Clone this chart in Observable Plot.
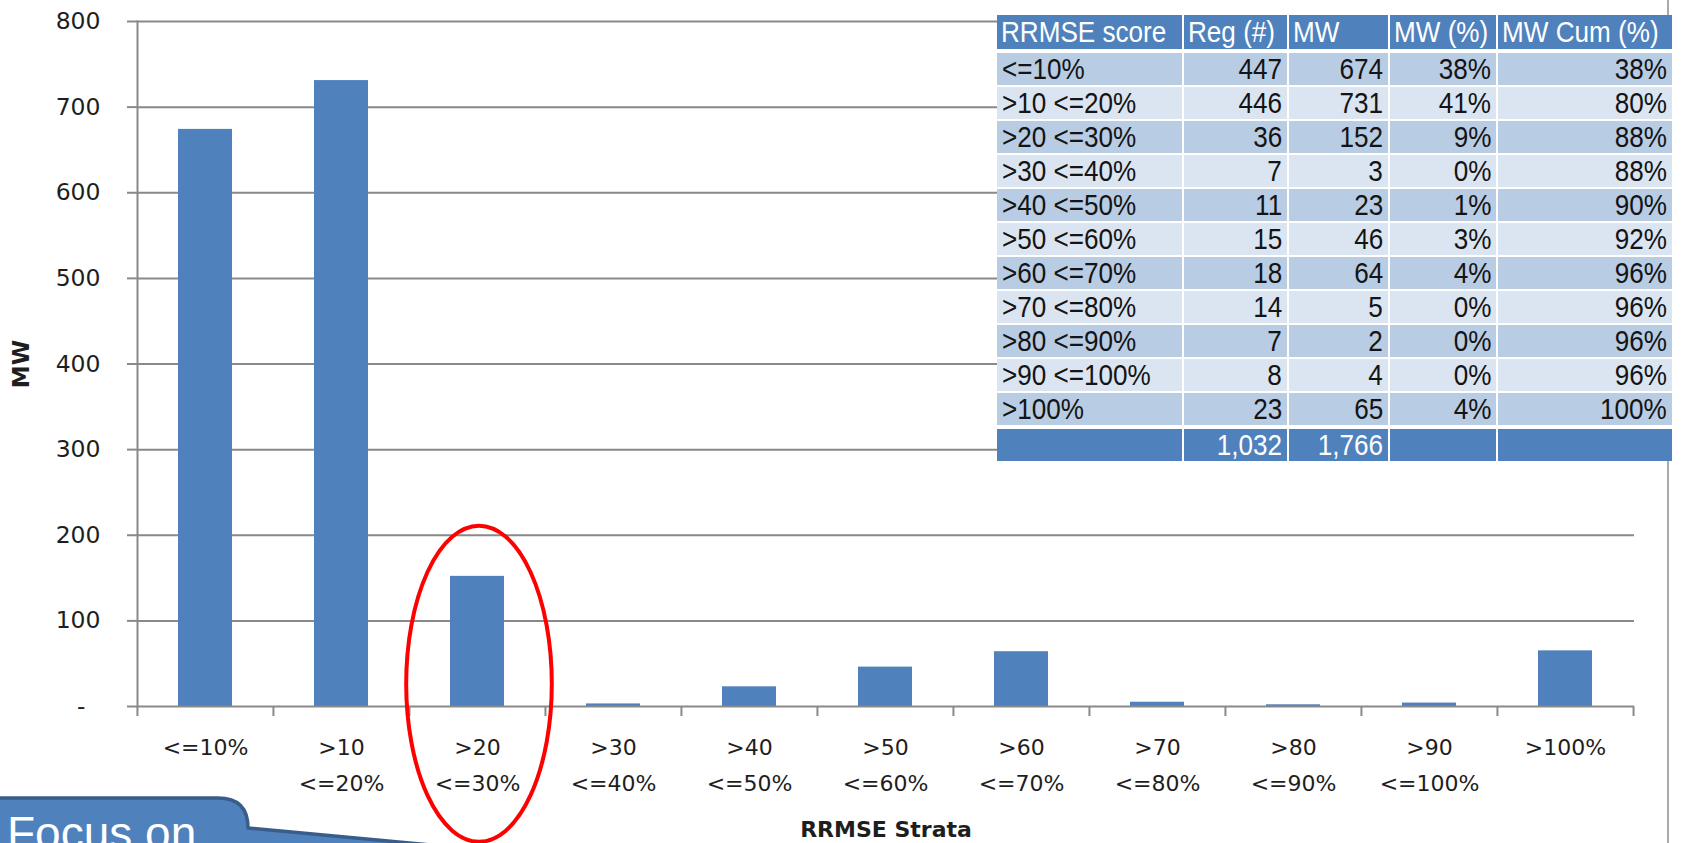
<!DOCTYPE html>
<html>
<head>
<meta charset="utf-8">
<script src="https://cdn.jsdelivr.net/npm/d3@7"></script>
<script src="https://cdn.jsdelivr.net/npm/@observablehq/plot@0.6"></script>
<style>
  html, body { margin: 0; padding: 0; background: #fff; overflow: hidden; }
  #wrap { position: relative; width: 1682px; height: 843px; overflow: hidden; background: #fff; }
  #chart { position: absolute; left: 0; top: 0; }
  #tbl {
    position: absolute; left: 997px; top: 15px; width: 675px;
    border-collapse: collapse; border-style: hidden; table-layout: fixed;
    font-family: "Liberation Sans", Arial, sans-serif;
    font-size: 30px; color: #141414;
  }
  #tbl td { border: 2px solid #fff; height: 32px; padding: 0 5px; line-height: 32px; white-space: nowrap; overflow: hidden; }
  #tbl td span { display: inline-block; transform: scaleX(0.87); transform-origin: left center; }
  #tbl td.num { text-align: right; }
  #tbl td.num span { transform-origin: right center; }
  #tbl tr.head td { background: #4f81bd; color: #fff; border-bottom-width: 4px; padding-left: 4px; line-height: 34px; }
  #tbl tr.odd td { background: #b8cce4; }
  #tbl tr.even td { background: #dbe5f1; }
  #tbl tr.foot td { background: #4f81bd; color: #fff; border-top-width: 4px; }
</style>
</head>
<body>
<div id="wrap">
  <div id="chart"></div>
</div>
<script>
// ---------------- data ----------------
const strata = ["<=10%", ">10 <=20%", ">20 <=30%", ">30 <=40%", ">40 <=50%", ">50 <=60%",
                ">60 <=70%", ">70 <=80%", ">80 <=90%", ">90 <=100%", ">100%"];
const regCount = [447, 446, 36, 7, 11, 15, 18, 14, 7, 8, 23];
const mw = [674, 731, 152, 3, 23, 46, 64, 5, 2, 4, 65];
const mwPct = ["38%", "41%", "9%", "0%", "1%", "3%", "4%", "0%", "0%", "0%", "4%"];
const mwCumPct = ["38%", "80%", "88%", "88%", "90%", "92%", "96%", "96%", "96%", "96%", "100%"];
const tableHeaders = ["RRMSE score", "Reg (#)", "MW", "MW (%)", "MW Cum (%)"];
const tableTotals = ["", "1,032", "1,766", "", ""];
const yTicks = [0, 100, 200, 300, 400, 500, 600, 700, 800];
const xTitle = "RRMSE Strata";
const yTitle = "MW";
const focusStratum = ">20 <=30%";
const calloutText = "Focus on";

// ---------------- layout ----------------
const W = 1682, H = 843;
const ml = 137, mr = 48, mt = 21, mb = 137;
const step = (W - ml - mr) / strata.length;
const gray = "#898989";
const ink = "#1e1e1e";
const barColor = "#4f81bd";
const fontAxis = "'DejaVu Sans', Verdana, sans-serif";

const data = strata.map((s, i) => ({stratum: s, mw: mw[i]}));
const last = strata[strata.length - 1];

const plot = Plot.plot({
  width: W, height: H,
  marginLeft: ml, marginRight: mr, marginTop: mt, marginBottom: mb,
  style: {fontFamily: fontAxis, fontSize: "22px", color: ink, background: "transparent", overflow: "visible"},
  x: {domain: strata, paddingInner: 0.6, paddingOuter: 0.3, label: null},
  y: {domain: [0, 800], label: null},
  marks: [
    Plot.gridY(yTicks.filter(d => d > 0), {stroke: gray, strokeOpacity: 1, strokeWidth: 2}),
    Plot.barY(data, {x: "stratum", y: "mw", fill: barColor}),
    Plot.frame({anchor: "left", stroke: gray, strokeWidth: 2}),
    Plot.ruleY([0], {stroke: gray, strokeWidth: 2}),
    // category boundary ticks below the x axis
    Plot.ruleX(strata, {x: d => d, dx: -step / 2, insetTop: H - mt - mb, insetBottom: -10, stroke: gray, strokeWidth: 2}),
    Plot.ruleX([last], {x: d => d, dx: step / 2, insetTop: H - mt - mb, insetBottom: -10, stroke: gray, strokeWidth: 2}),
    Plot.axisY({ticks: yTicks, tickSize: 10, tickPadding: 27, stroke: gray, strokeWidth: 2, fill: ink,
                tickFormat: d => d === 0 ? "-\u2007" : String(d), label: null, fontSize: 23.5}),
    Plot.axisX({tickSize: 0, tickPadding: 23, fill: ink, lineHeight: 1.64, fontSize: 22,
                tickFormat: d => d.replace(" ", "\n"), label: null}),
    Plot.text([xTitle], {frameAnchor: "bottom", dy: 123, lineAnchor: "middle", textAnchor: "middle",
                         fontWeight: "bold", fontSize: 22, fill: ink, text: d => d}),
    Plot.text([yTitle], {frameAnchor: "left", dx: -116, rotate: -90, lineAnchor: "middle", textAnchor: "middle",
                         fontWeight: "bold", fontSize: 23, fill: ink, text: d => d})
  ]
});
document.getElementById("chart").appendChild(plot);

// ---------------- annotations (positioned from the plot's scales) ----------------
const xs = plot.scale("x"), ys = plot.scale("y");
const svg = d3.select(plot);
const cx = xs.apply(focusStratum) + xs.bandwidth / 2 + 2;
const cy = ys.apply(26);
const rx = step * 0.535, ry = 158;

// chart frame border on the right
svg.append("line").attr("x1", 1668).attr("x2", 1668).attr("y1", 0).attr("y2", H)
  .attr("stroke", "#8c8c8c").attr("stroke-width", 1.5);

// callout
const g = svg.append("g");
const tipX = cx - 5, tipY = H + 6;
g.append("path")
  .attr("d", `M -6 798 H 218 Q 248 798 248 828 L ${tipX} ${tipY} L ${tipX} ${H + 40} L -6 ${H + 40} Z`)
  .attr("fill", barColor).attr("stroke", "#385d8a").attr("stroke-width", 3.5).attr("stroke-linejoin", "round");
g.append("text").attr("x", 7).attr("y", 849).text(calloutText)
  .attr("text-anchor", "start")
  .attr("fill", "#fff").attr("font-family", "'Liberation Sans', Arial, sans-serif").attr("font-size", 46);

// red ellipse
svg.append("ellipse").attr("cx", cx).attr("cy", cy).attr("rx", rx).attr("ry", ry)
  .attr("fill", "none").attr("stroke", "#ff0000").attr("stroke-width", 4);

// ---------------- data table ----------------
const tbl = document.createElement("table");
tbl.id = "tbl";
const colWidths = [186, 105, 101, 108, 175];
const cg = document.createElement("colgroup");
colWidths.forEach(w => { const c = document.createElement("col"); c.style.width = w + "px"; cg.appendChild(c); });
tbl.appendChild(cg);
function addRow(cls, cells, numeric) {
  const tr = document.createElement("tr");
  tr.className = cls;
  cells.forEach((v, j) => {
    const td = document.createElement("td");
    const sp = document.createElement("span");
    sp.textContent = v;
    td.appendChild(sp);
    if (numeric && j > 0) td.className = "num";
    tr.appendChild(td);
  });
  tbl.appendChild(tr);
}
addRow("head", tableHeaders, false);
strata.forEach((s, i) => addRow(i % 2 === 0 ? "odd" : "even",
  [s, String(regCount[i]), String(mw[i]), mwPct[i], mwCumPct[i]], true));
addRow("foot", tableTotals, true);
document.getElementById("wrap").appendChild(tbl);
</script>
</body>
</html>
